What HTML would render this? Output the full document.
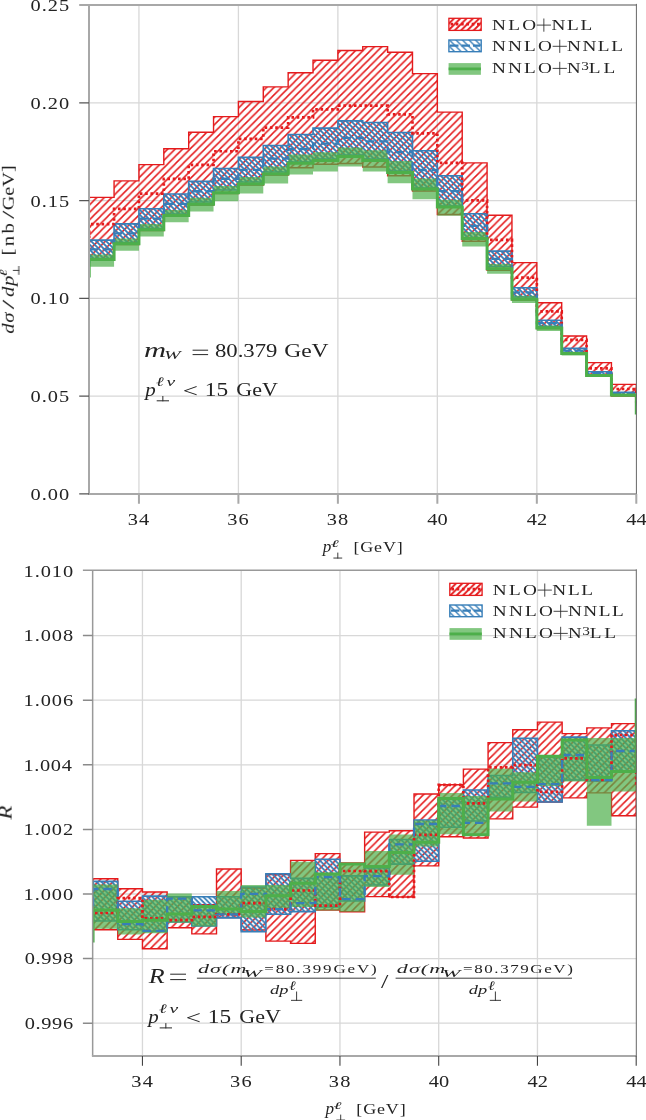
<!DOCTYPE html><html><head><meta charset="utf-8"><style>html,body{margin:0;padding:0;background:#fff;overflow:hidden}svg{display:block}text{font-family:"Liberation Serif",serif;fill:#222}</style></head><body>
<svg width="646" height="1120" viewBox="0 0 646 1120">
<defs>
<pattern id="pr" patternUnits="userSpaceOnUse" x="3.85" width="7.45" height="7.45"><path d="M-1,1 L1,-1 M0,7.45 L7.45,0 M6.45,8.45 L8.45,6.45" stroke="#e41a1c" stroke-width="1.5"/></pattern>
<pattern id="pbt" patternUnits="userSpaceOnUse" x="0" width="5.0" height="5.0"><path d="M0,0 L5.0,5.0 M-1,4 L1,6 M4,-1 L6,1" stroke="#377eb8" stroke-width="1.8"/></pattern>
<pattern id="pbb" patternUnits="userSpaceOnUse" x="0" width="5.1" height="5.1"><path d="M0,0 L5.1,5.1 M-1,4.1 L1,6.1 M4.1,-1 L6.1,1" stroke="#377eb8" stroke-width="1.8"/></pattern>
<pattern id="pbl" patternUnits="userSpaceOnUse" x="0" width="6.5" height="6.5"><path d="M0,0 L6.5,6.5 M-1,5.5 L1,7.5 M5.5,-1 L7.5,1" stroke="#377eb8" stroke-width="1.4"/></pattern>
<pattern id="prl" patternUnits="userSpaceOnUse" x="0" width="6.3" height="6.3"><path d="M0,6.3 L6.3,0 M-1,1 L1,-1 M5.3,7.3 L7.3,5.3" stroke="#e41a1c" stroke-width="1.9"/></pattern>
<clipPath id="ct"><rect x="89.0" y="4.9" width="547.4" height="489.0"/></clipPath>
<clipPath id="cb"><rect x="92.65" y="570.3" width="543.65" height="485.79999999999995"/></clipPath>
</defs>
<rect width="646" height="1120" fill="#fff"/>
<path d="M138.94,4.9V493.9M238.41,4.9V493.9M337.88,4.9V493.9M437.35,4.9V493.9M536.83,4.9V493.9M89.0,396.14H636.4M89.0,298.38H636.4M89.0,200.62H636.4M89.0,102.86H636.4" stroke="#d8d8d8" stroke-width="1.3" fill="none"/>
<g clip-path="url(#ct)">
<path d="M89.2,197.4H114.07V180.9H138.94V164.6H163.8V148.7H188.67V132.3H213.54V116.6H238.41V101.5H263.28V86.9H288.15V72.8H313.01V60.3H337.88V50.5H362.75V46.6H387.62V52.2H412.49V73.6H437.35V112.1H462.22V162.9H487.09V215.2H511.96V262.6H536.83V302.75H561.7V336H586.56V362.6H611.43V384.4H636.3V396H611.43V376H586.56V354H561.7V328.5H536.83V300H511.96V270.2H487.09V241.3H462.22V214.5H437.35V191H412.49V175.7H387.62V167H362.75V163.5H337.88V164.3H313.01V167.8H288.15V175H263.28V185H238.41V193.5H213.54V205H188.67V216H163.8V230.5H138.94V244.5H114.07V260H89.2Z" fill="url(#pr)" stroke="#e41a1c" stroke-width="1.4"/>
<path d="M89.2,240.1H114.07V223.9H138.94V208.7H163.8V194H188.67V181.4H213.54V168.5H238.41V157.4H263.28V145.5H288.15V134.5H313.01V128.1H337.88V120.9H362.75V122.5H387.62V132.5H412.49V150.8H437.35V175.7H462.22V213.8H487.09V251.1H511.96V287.7H536.83V320.2H561.7V348.2H586.56V371.7H611.43V392.2H636.3V395H611.43V375H586.56V353H561.7V326.5H536.83V297H511.96V266.5H487.09V238H462.22V206H437.35V188H412.49V171H387.62V159H362.75V155H337.88V159H313.01V162H288.15V172H263.28V182H238.41V190H213.54V202H188.67V214H163.8V228.5H138.94V242.5H114.07V258.5H89.2Z" fill="url(#pbt)" stroke="#377eb8" stroke-width="1.6"/>
<path d="M89.2,254.4H114.07V238.5H138.94V223.9H163.8V210.1H188.67V197.8H213.54V186H238.41V177.1H263.28V166.4H288.15V154.5H313.01V152.2H337.88V147.5H362.75V150.3H387.62V161H412.49V178.6H437.35V199.8H462.22V231.9H487.09V263.9H511.96V295.8H536.83V325.6H561.7V351.7H586.56V374H611.43V394H636.3V397H611.43V377H586.56V355.6H561.7V331H536.83V303.1H511.96V273.7H487.09V246.6H462.22V215.8H437.35V199.3H412.49V183.2H387.62V171.4H362.75V166.5H337.88V171.4H313.01V174.6H288.15V183.6H263.28V193.4H238.41V201.2H213.54V211.6H188.67V222.3H163.8V236.4H138.94V250.7H114.07V266.7H89.2Z" fill="#4daf4a" fill-opacity="0.7" stroke="none"/>
<path d="M64.33,240H89.2V224.2H114.07V208.8H138.94V193.6H163.8V178.8H188.67V164.9H213.54V151.25H238.41V138.9H263.28V127.6H288.15V117.3H313.01V109.3H337.88V105.6H362.75V105.6H387.62V114.4H412.49V133.4H437.35V162.9H462.22V200.4H487.09V239.8H511.96V277.6H536.83V311.4H561.7V339.9H586.56V368.3H611.43V389H636.3V405H661.17" fill="none" stroke="#e41a1c" stroke-width="2.7" stroke-dasharray="2.6 2.7"/>
<path d="M64.33,265H89.2V249.4H114.07V233.3H138.94V218.6H163.8V203.8H188.67V191.25H213.54V178.75H238.41V169.9H263.28V158.6H288.15V149H313.01V143.6H337.88V137.9H362.75V141.3H387.62V152.2H412.49V170H437.35V191.1H462.22V225.9H487.09V258.9H511.96V292.3H536.83V323.2H561.7V350.7H586.56V373.2H611.43V393.5H636.3V410H661.17" fill="none" stroke="#377eb8" stroke-width="2.3" stroke-dasharray="8.5 5"/>
<path d="M64.33,276H89.2V259.5H114.07V243.7H138.94V229.7H163.8V215.4H188.67V204.3H213.54V192.8H238.41V184.1H263.28V174H288.15V163.2H313.01V160.6H337.88V156.4H362.75V160.5H387.62V172.4H412.49V189H437.35V207.1H462.22V238.6H487.09V268.8H511.96V299.2H536.83V328.1H561.7V353.6H586.56V375.6H611.43V395.1H636.3V413H661.17" fill="none" stroke="#4daf4a" stroke-width="3.0"/>
</g>
<path d="M89.0,4.9V493.9H636.4" fill="none" stroke="#a8a8a8" stroke-width="2"/>
<path d="M79.2,4.9H636.4" fill="none" stroke="#a8a8a8" stroke-width="2"/>
<path d="M636.4,3.9000000000000004V493.9" fill="none" stroke="#666" stroke-width="1"/>
<path d="M79.2,493.9H89.0M79.2,396.14H89.0M79.2,298.38H89.0M79.2,200.62H89.0M79.2,102.86H89.0" stroke="#555" stroke-width="1.1"/>
<path d="M138.94,493.9V503.8M238.41,493.9V503.8M337.88,493.9V503.8M437.35,493.9V503.8M536.83,493.9V503.8M636.3,493.9V503.8" stroke="#a8a8a8" stroke-width="2"/>
<path d="M142.45,570.3V1056.1M241.2,570.3V1056.1M339.95,570.3V1056.1M438.7,570.3V1056.1M537.45,570.3V1056.1M92.65,1023.2H636.3M92.65,958.6H636.3M92.65,894H636.3M92.65,829.4H636.3M92.65,764.8H636.3M92.65,700.2H636.3M92.65,635.6H636.3" stroke="#d8d8d8" stroke-width="1.3" fill="none"/>
<g clip-path="url(#cb)">
<path d="M93.07,878.75H117.76V888.7H142.45V892H167.13V896.7H191.82V904.8H216.51V869H241.2V888H265.88V874.5H290.57V860.4H315.26V853.6H339.95V862.9H364.64V832.1H389.32V830.7H414.01V794H438.7V784.8H463.39V769.1H488.07V742.6H512.76V729.7H537.45V722.1H562.14V733.6H586.82V727.9H611.51V723.6H636.2V815.7H611.51V792.9H586.82V797.9H562.14V802H537.45V807.1H512.76V818.9H488.07V838H463.39V836.8H438.7V865.9H414.01V897H389.32V896.6H364.64V911.8H339.95V910H315.26V943.4H290.57V941.1H265.88V930H241.2V917.5H216.51V933.9H191.82V927.7H167.13V948.7H142.45V939.4H117.76V929.7H93.07Z" fill="url(#pr)" stroke="#e41a1c" stroke-width="1.4"/>
<path d="M93.07,881.4H117.76V901.2H142.45V896.1H167.13V896.7H191.82V896.7H216.51V896.8H241.2V887H265.88V873.8H290.57V878.4H315.26V859.2H339.95V875.9H364.64V868H389.32V839.5H414.01V820H438.7V798.8H463.39V790H488.07V775.5H512.76V738.2H537.45V757H562.14V737.1H586.82V745H611.51V730.7H636.2V771H611.51V781H586.82V780H562.14V802H537.45V792.5H512.76V797.2H488.07V821H463.39V827.2H438.7V861.3H414.01V864.1H389.32V885H364.64V901H339.95V907H315.26V911.6H290.57V914.2H265.88V931.8H241.2V917.9H216.51V926H191.82V922H167.13V931.4H142.45V929.8H117.76V921H93.07Z" fill="url(#pbb)" stroke="#377eb8" stroke-width="1.6"/>
<path d="M93.07,884.6H117.76V908.2H142.45V899.8H167.13V893.6H191.82V906H216.51V891H241.2V885.1H265.88V885H290.57V861.7H315.26V872.8H339.95V862.9H364.64V851.1H389.32V834.4H414.01V820.4H438.7V793H463.39V796H488.07V768.6H512.76V772.2H537.45V756.3H562.14V738.6H586.82V737.9H611.51V737.9H636.2V791.4H611.51V825.7H586.82V781.4H562.14V786.1H537.45V801.4H512.76V811.5H488.07V836H463.39V834.2H438.7V846.4H414.01V874.8H389.32V886.9H364.64V911.8H339.95V910.6H315.26V906.9H290.57V907.9H265.88V917.5H241.2V914.8H216.51V926.4H191.82V922.7H167.13V933.3H142.45V934.6H117.76V928.8H93.07Z" fill="#4daf4a" fill-opacity="0.7" stroke="none"/>
<path d="M68.38,913H93.07V913H117.76V898.2H142.45V918.4H167.13V920.2H191.82V916.9H216.51V914.3H241.2V903.1H265.88V909.2H290.57V890.5H315.26V905.6H339.95V871H364.64V871.1H389.32V897H414.01V834.8H438.7V784.8H463.39V803.4H488.07V767.3H512.76V765.2H537.45V791.9H562.14V758.3H586.82V780H611.51V735H636.2V787H660.89" fill="none" stroke="#e41a1c" stroke-width="2.7" stroke-dasharray="2.6 2.7"/>
<path d="M68.38,908H93.07V889H117.76V924.2H142.45V930.8H167.13V898.6H191.82V910.3H216.51V914.3H241.2V893.9H265.88V909.2H290.57V903.2H315.26V877H339.95V899.2H364.64V876.2H389.32V844.3H414.01V824H438.7V806H463.39V822.9H488.07V783.3H512.76V786.8H537.45V784.2H562.14V755H586.82V780H611.51V751H636.2V760H660.89" fill="none" stroke="#377eb8" stroke-width="2.3" stroke-dasharray="8.5 5"/>
<path d="M68.38,941H93.07V910H117.76V921.6H142.45V920.2H167.13V914.1H191.82V906.6H216.51V909H241.2V911.6H265.88V895.8H290.57V883.3H315.26V874H339.95V864H364.64V866.4H389.32V852.5H414.01V842.2H438.7V798.6H463.39V834.8H488.07V798.9H512.76V782.3H537.45V756.3H562.14V739.9H586.82V777.4H611.51V771.4H636.2V700H660.89" fill="none" stroke="#4daf4a" stroke-width="3.0"/>
</g>
<path d="M92.65,570.3V1056.1" fill="none" stroke="#999" stroke-width="1.5"/>
<path d="M82.9,570.3H636.3" fill="none" stroke="#999" stroke-width="1.4"/>
<path d="M91.9,1056.1H636.3" fill="none" stroke="#a8a8a8" stroke-width="2"/>
<path d="M636.3,569.3V1056.1" fill="none" stroke="#666" stroke-width="1"/>
<path d="M82.9,1023.2H92.65M82.9,958.6H92.65M82.9,894H92.65M82.9,829.4H92.65M82.9,764.8H92.65M82.9,700.2H92.65M82.9,635.6H92.65" stroke="#8a8a8a" stroke-width="1.5"/>
<path d="M142.45,1056.1V1065.7M241.2,1056.1V1065.7M339.95,1056.1V1065.7M438.7,1056.1V1065.7M537.45,1056.1V1065.7M636.2,1056.1V1065.7" stroke="#444" stroke-width="1.1"/>
<rect x="448.9" y="18.3" width="32.3" height="12.1" fill="url(#prl)" stroke="#e41a1c" stroke-width="1.3"/>
<path d="M450.5,24.2H480" stroke="#e41a1c" stroke-width="2.7" stroke-dasharray="2.6 2.7"/>
<rect x="448.9" y="40" width="32.3" height="11.7" fill="url(#pbl)" stroke="#377eb8" stroke-width="1.4"/>
<path d="M450,45.6H480" stroke="#377eb8" stroke-width="2.3" stroke-dasharray="8.5 3"/>
<rect x="448.6" y="63.1" width="32.3" height="11.7" fill="#4daf4a" fill-opacity="0.7"/>
<path d="M448.6,68.9H480.9" stroke="#4daf4a" stroke-width="2.6"/>
<rect x="449.8" y="583.3" width="32.3" height="12.1" fill="url(#prl)" stroke="#e41a1c" stroke-width="1.3"/>
<path d="M451.4,589.2H480.9" stroke="#e41a1c" stroke-width="2.7" stroke-dasharray="2.6 2.7"/>
<rect x="449.8" y="605" width="32.3" height="11.7" fill="url(#pbl)" stroke="#377eb8" stroke-width="1.4"/>
<path d="M450.9,610.6H480.9" stroke="#377eb8" stroke-width="2.3" stroke-dasharray="8.5 3"/>
<rect x="449.5" y="628.1" width="32.3" height="11.7" fill="#4daf4a" fill-opacity="0.7"/>
<path d="M449.5,633.9H481.8" stroke="#4daf4a" stroke-width="2.6"/>
<g fill="#262626" opacity="0.995">
<text transform="translate(30.45,499.8) scale(1.25,1)" font-size="16.3" letter-spacing="0.84">0.00</text>
<text transform="translate(30.45,402.04) scale(1.25,1)" font-size="16.3" letter-spacing="0.84">0.05</text>
<text transform="translate(30.45,304.28) scale(1.25,1)" font-size="16.3" letter-spacing="0.84">0.10</text>
<text transform="translate(30.45,206.52) scale(1.25,1)" font-size="16.3" letter-spacing="0.84">0.15</text>
<text transform="translate(30.45,108.76) scale(1.25,1)" font-size="16.3" letter-spacing="0.84">0.20</text>
<text transform="translate(30.45,11) scale(1.25,1)" font-size="16.3" letter-spacing="0.84">0.25</text>
<text transform="translate(127.69,525) scale(1.25,1)" font-size="16.3" letter-spacing="1.0">34</text>
<text transform="translate(227.16,525) scale(1.25,1)" font-size="16.3" letter-spacing="1.0">36</text>
<text transform="translate(326.63,525) scale(1.25,1)" font-size="16.3" letter-spacing="1.0">38</text>
<text transform="translate(427.35,525) scale(1.25,1)" font-size="16.3">40</text>
<text transform="translate(526.83,525) scale(1.25,1)" font-size="16.3">42</text>
<text transform="translate(626.3,525) scale(1.25,1)" font-size="16.3">44</text>
<text transform="translate(322.67,551.9) scale(1.0667,1)" font-size="16.0" font-style="italic">p</text>
<text transform="translate(330.63,546.8) scale(1.9667,1)" font-size="10.0" font-style="italic">ℓ</text>
<text transform="translate(353.45,551.9) scale(1.25,1)" font-size="14.4" letter-spacing="0.67">[GeV]</text>
<text transform="translate(143.91,357.3) scale(1.4923,1)" font-size="20.5" font-style="italic">m</text>
<text transform="translate(164.02,358.9) scale(1.4818,1)" font-size="13.5" font-style="italic">W</text>
<text transform="translate(214.9,357.3) scale(1.204,1)" font-size="18.9">80.379</text>
<text transform="translate(284.16,357.3) scale(1.2441,1)" font-size="18.9">GeV</text>
<text transform="translate(145.29,395.5) scale(1.09,1)" font-size="19.2" font-style="italic">p</text>
<text transform="translate(155.9,386.3) scale(1.5,1)" font-size="13.0" font-style="italic" letter-spacing="1.6">ℓν</text>
<text transform="translate(182.68,396.7) scale(1.4222,1)" font-size="18.9">&lt;</text>
<text transform="translate(204.83,395.5) scale(1.2375,1)" font-size="18.9">15</text>
<text transform="translate(236.34,395.5) scale(1.1618,1)" font-size="18.9">GeV</text>
<text transform="translate(491.95,29.8) scale(1.25,1)" font-size="15.4" letter-spacing="1.84">NLO</text>
<text transform="translate(551.45,29.8) scale(1.25,1)" font-size="15.4" letter-spacing="1.32">NLL</text>
<text transform="translate(491.95,51) scale(1.25,1)" font-size="15.4" letter-spacing="1.747">NNLO</text>
<text transform="translate(567.05,51) scale(1.25,1)" font-size="15.4" letter-spacing="1.213">NNLL</text>
<text transform="translate(491.95,73.1) scale(1.25,1)" font-size="15.4" letter-spacing="1.747">NNLO</text>
<text transform="translate(567.08,73.1) scale(1.22,1)" font-size="15.4">N</text>
<text transform="translate(581.28,70) scale(1.325,1)" font-size="11.5">3</text>
<text transform="translate(588.75,73.1) scale(1.25,1)" font-size="15.4" letter-spacing="2.36">LL</text>
<text transform="translate(492.85,594.8) scale(1.25,1)" font-size="15.4" letter-spacing="1.84">NLO</text>
<text transform="translate(552.35,594.8) scale(1.25,1)" font-size="15.4" letter-spacing="1.32">NLL</text>
<text transform="translate(492.85,616) scale(1.25,1)" font-size="15.4" letter-spacing="1.747">NNLO</text>
<text transform="translate(567.95,616) scale(1.25,1)" font-size="15.4" letter-spacing="1.213">NNLL</text>
<text transform="translate(492.85,638.1) scale(1.25,1)" font-size="15.4" letter-spacing="1.747">NNLO</text>
<text transform="translate(567.98,638.1) scale(1.22,1)" font-size="15.4">N</text>
<text transform="translate(582.17,635) scale(1.325,1)" font-size="11.5">3</text>
<text transform="translate(589.65,638.1) scale(1.25,1)" font-size="15.4" letter-spacing="2.36">LL</text>
<text transform="translate(24.75,1029) scale(1.25,1)" font-size="16.3" letter-spacing="0.51">0.996</text>
<text transform="translate(24.75,964.4) scale(1.25,1)" font-size="16.3" letter-spacing="0.51">0.998</text>
<text transform="translate(23.5,899.8) scale(1.25,1)" font-size="16.3" letter-spacing="0.76">1.000</text>
<text transform="translate(23.5,835.2) scale(1.25,1)" font-size="16.3" letter-spacing="0.76">1.002</text>
<text transform="translate(23.5,770.6) scale(1.25,1)" font-size="16.3" letter-spacing="0.51">1.004</text>
<text transform="translate(23.5,706) scale(1.25,1)" font-size="16.3" letter-spacing="0.76">1.006</text>
<text transform="translate(23.5,641.4) scale(1.25,1)" font-size="16.3" letter-spacing="0.76">1.008</text>
<text transform="translate(23.5,576.8) scale(1.25,1)" font-size="16.3" letter-spacing="0.76">1.010</text>
<text transform="translate(131.2,1086.6) scale(1.25,1)" font-size="16.3" letter-spacing="1.0">34</text>
<text transform="translate(229.95,1086.6) scale(1.25,1)" font-size="16.3" letter-spacing="1.0">36</text>
<text transform="translate(328.7,1086.6) scale(1.25,1)" font-size="16.3" letter-spacing="1.0">38</text>
<text transform="translate(428.7,1086.6) scale(1.25,1)" font-size="16.3">40</text>
<text transform="translate(527.45,1086.6) scale(1.25,1)" font-size="16.3">42</text>
<text transform="translate(626.2,1086.6) scale(1.25,1)" font-size="16.3">44</text>
<text transform="translate(325.57,1113.9) scale(1.0667,1)" font-size="16.0" font-style="italic">p</text>
<text transform="translate(333.53,1108.8) scale(1.9667,1)" font-size="10.0" font-style="italic">ℓ</text>
<text transform="translate(356.35,1113.9) scale(1.25,1)" font-size="14.4" letter-spacing="0.67">[GeV]</text>
<text transform="translate(148.8,983.3) scale(1.3,1)" font-size="20.0" font-style="italic">R</text>
<text transform="translate(198,973) scale(1.75,1)" font-size="12.6" font-style="italic" letter-spacing="0.619">dσ(m</text>
<text transform="translate(243.27,977) scale(2.3286,1)" font-size="9.5" font-style="italic">W</text>
<text transform="translate(264.25,973) scale(1.35,1)" font-size="12.6" letter-spacing="1.363">=80.399GeV)</text>
<text transform="translate(270,993.9) scale(1.4583,1)" font-size="12.6" font-style="italic">dp</text>
<text transform="translate(289.35,989.6) scale(1.25,1)" font-size="13.0" font-style="italic">ℓ</text>
<text transform="translate(381,988) scale(1.4,1)" font-size="18.9">/</text>
<text transform="translate(396.8,973) scale(1.75,1)" font-size="12.6" font-style="italic" letter-spacing="0.619">dσ(m</text>
<text transform="translate(442.07,977) scale(2.3286,1)" font-size="9.5" font-style="italic">W</text>
<text transform="translate(463.05,973) scale(1.35,1)" font-size="12.6" letter-spacing="1.163">=80.379GeV)</text>
<text transform="translate(468.8,993.9) scale(1.4583,1)" font-size="12.6" font-style="italic">dp</text>
<text transform="translate(488.15,989.6) scale(1.25,1)" font-size="13.0" font-style="italic">ℓ</text>
<text transform="translate(148.29,1022.6) scale(1.09,1)" font-size="19.2" font-style="italic">p</text>
<text transform="translate(158.9,1013.4) scale(1.5,1)" font-size="13.0" font-style="italic" letter-spacing="1.6">ℓν</text>
<text transform="translate(185.68,1023.8) scale(1.4222,1)" font-size="18.9">&lt;</text>
<text transform="translate(207.83,1022.6) scale(1.2375,1)" font-size="18.9">15</text>
<text transform="translate(239.34,1022.6) scale(1.1618,1)" font-size="18.9">GeV</text>
<path d="M337.8,552.6V558.5M333.4,558.05H342.2" stroke="#262626" stroke-width="0.9" fill="none"/>
<path d="M340.7,1114.6V1120.5M336.3,1120.05H345.1" stroke="#262626" stroke-width="0.9" fill="none"/>
<path d="M162.85,396V401.3M156.7,400.8H169" stroke="#262626" stroke-width="1.0" fill="none"/>
<path d="M165.85,1023.1V1028.4M159.7,1027.9H172" stroke="#262626" stroke-width="1.0" fill="none"/>
<path d="M296.6,991.5V1000.8M291,1000.35H302.2" stroke="#262626" stroke-width="0.9" fill="none"/>
<path d="M495.4,991.5V1000.8M489.8,1000.35H501" stroke="#262626" stroke-width="0.9" fill="none"/>
<path d="M536.75,25.1H550.95M543.85,18.5V31.7" stroke="#262626" stroke-width="0.85" fill="none"/>
<path d="M552.65,46.3H566.85M559.75,39.7V52.9" stroke="#262626" stroke-width="0.85" fill="none"/>
<path d="M552.65,68.4H566.85M559.75,61.8V75" stroke="#262626" stroke-width="0.85" fill="none"/>
<path d="M537.65,590.1H551.85M544.75,583.5V596.7" stroke="#262626" stroke-width="0.85" fill="none"/>
<path d="M553.55,611.3H567.75M560.65,604.7V617.9" stroke="#262626" stroke-width="0.85" fill="none"/>
<path d="M553.55,633.4H567.75M560.65,626.8V640" stroke="#262626" stroke-width="0.85" fill="none"/>
<path d="M192.6,350.2H208.1M192.6,354.6H208.1M170.2,974.2H186M170.2,979.6H186" stroke="#262626" stroke-width="1.0" fill="none"/>
<path d="M196.9,978.2H375.8M395.6,978.2H572" stroke="#262626" stroke-width="0.9"/>
<g transform="translate(13.8,334) rotate(-90)"><text transform="translate(0.25,0) scale(1.3,1)" font-size="16" font-style="italic" letter-spacing="0.5">dσ</text><text transform="translate(24.4,0) scale(2.225,1)" font-size="16">/</text><text transform="translate(36.9,0) scale(1.3,1)" font-size="16" font-style="italic" letter-spacing="0.462">dp</text><text transform="translate(56.93,-6.8) scale(1.6667,1)" font-size="10.5" font-style="italic">ℓ</text><text transform="translate(78.4,0) scale(1.3,1)" font-size="16" letter-spacing="1.846">[nb</text><text transform="translate(115,0) scale(1.9,1)" font-size="16">/</text><text transform="translate(123.73,0) scale(1.2676,1)" font-size="16">GeV]</text><path d="M63.6,-0.9V5.4M59.2,5.0H68" stroke="#262626" stroke-width="0.9" fill="none"/></g>
<g transform="translate(11.6,820) rotate(-90)"><text transform="translate(0.4,0) scale(1.2364,1)" font-size="18.5" font-style="italic">R</text></g>
</g>
</svg></body></html>
